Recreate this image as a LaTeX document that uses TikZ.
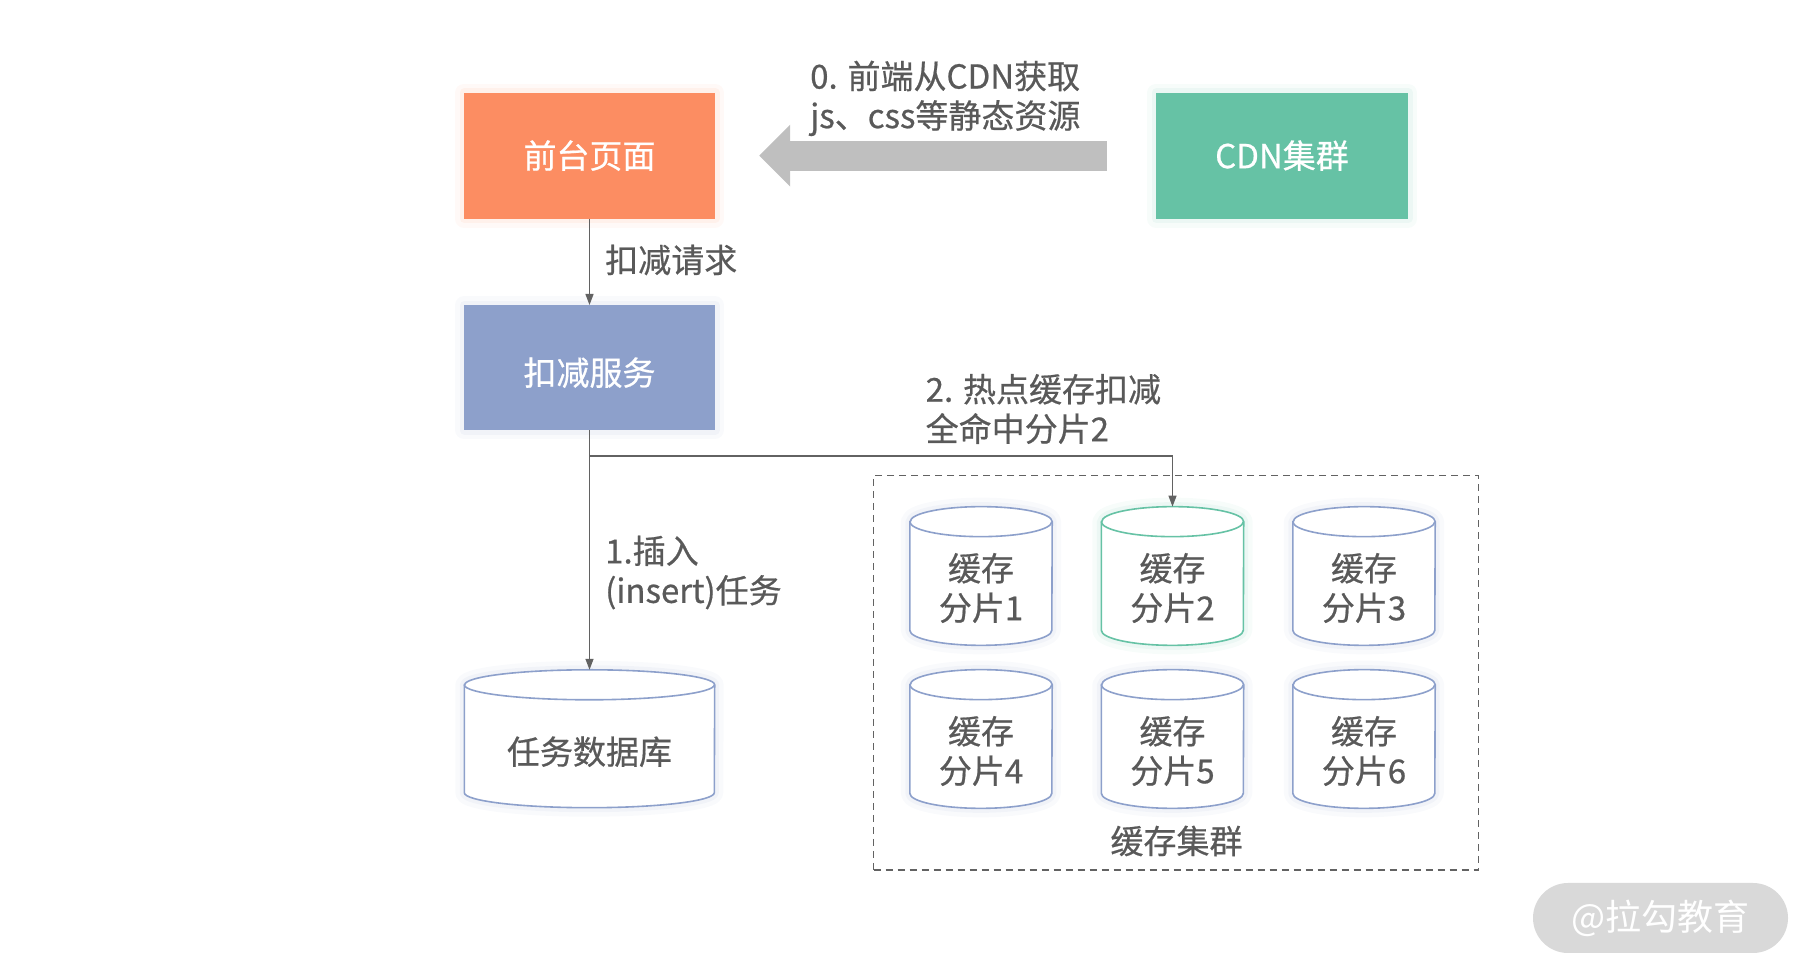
\documentclass[tikz,border=0pt]{standalone}
\usepackage{fontspec}
\setmainfont{Noto Sans CJK SC}[FakeBold=0.6]
\newfontfamily\plainfont{Noto Sans CJK SC}
\usetikzlibrary{arrows.meta,calc}
\definecolor{cfe}{HTML}{FC8D62}
\definecolor{ccdn}{HTML}{66C2A5}
\definecolor{csvc}{HTML}{8DA0CB}
\definecolor{ctxt}{HTML}{595959}
\definecolor{cline}{HTML}{626262}
\definecolor{carrow}{HTML}{BFBFBF}
\definecolor{cmark}{HTML}{D9D9D9}
\pgfdeclarelayer{bg}
\pgfsetlayers{bg,main}
\tikzset{
  glow/.style={preaction={draw=#1,draw opacity=0.05,line width=18pt,line join=round},
               preaction={draw=#1,draw opacity=0.08,line width=9pt,line join=round}},
  box/.style={draw=none,inner sep=0pt,text=white,font=\fontsize{33pt}{40pt}\selectfont},
  lbl/.style={inner sep=0pt,text=ctxt,font=\fontsize{33pt}{39.5pt}\selectfont},
  cyl/.style={draw=none,inner sep=0pt},
  conn/.style={draw=cline,line width=1.3pt,-{Triangle[length=11pt,width=8pt]}},
}
\newcommand\cylshape[3]{%
  \begin{pgfonlayer}{bg}
  \draw[draw=#3,fill=white,line width=1.6pt,glow=#3]
    ([yshift=-15pt]#1.north west) -- ([yshift=15pt]#1.south west)
    arc[start angle=180,end angle=360,x radius=#2,y radius=15pt]
    -- ([yshift=-15pt]#1.north east)
    arc[start angle=0,end angle=180,x radius=#2,y radius=15pt] -- cycle;
  \draw[draw=#3,line width=1.6pt] ([yshift=-15pt]#1.north west)
    arc[start angle=180,end angle=360,x radius=#2,y radius=15pt];
  \end{pgfonlayer}}
\begin{document}
\begin{tikzpicture}[x=1pt,y=1pt]
\useasboundingbox (0,0) rectangle (1814,979);

% top boxes
\node[box,fill=cfe,glow=cfe,minimum width=251pt,minimum height=126pt] (fe) at (589.5,823.4) {前台页面};
\node[box,fill=ccdn,glow=ccdn,minimum width=252pt,minimum height=126pt] (cdn) at (1282,823.4) {CDN集群};
\node[box,fill=csvc,glow=csvc,minimum width=251pt,minimum height=125pt] (svc) at (589.5,611.3) {\raisebox{-5pt}[\height][\depth]{扣减服务}};

% big gray arrow
\draw[carrow,line width=30pt,-{Triangle[length=31pt 0 0,width=60pt 0]}]
  ([xshift=-49pt]cdn.west) -- ([xshift=44pt]fe.east);
\node[lbl,anchor=west,align=left] (l0) at (810,880.6) {0. 前端从CDN获取\\js、css等静态资源};

% request
\draw[conn] (fe.south) -- (svc.north);
\node[lbl,anchor=west] (l1) at (605,719) {扣减请求};

% task database
\node[cyl,minimum width=250pt,minimum height=137.5pt] (db) at (589.5,240.25) {};
\cylshape{db}{125pt}{csvc}
\node[lbl] (dbt) at ([yshift=-13pt]db.center) {任务数据库};

% cache cluster
\node[draw=cline,dashed,dash pattern=on 7pt off 5pt,line width=1.4pt,minimum width=605pt,minimum height=394.5pt,inner sep=0pt] (cluster) at (1176,306.25) {};
\node[lbl] (clt) at (1176.5,138) {缓存集群};

\node[cyl,minimum width=142pt,minimum height=138.3pt] (c1) at (981,403) {};
\node[cyl,minimum width=142pt,minimum height=138.3pt] (c2) at (1172.5,403) {};
\node[cyl,minimum width=142pt,minimum height=138.3pt] (c3) at (1364,403) {};
\node[cyl,minimum width=142pt,minimum height=138.3pt] (c4) at (981,240) {};
\node[cyl,minimum width=142pt,minimum height=138.3pt] (c5) at (1172.5,240) {};
\node[cyl,minimum width=142pt,minimum height=138.3pt] (c6) at (1364,240) {};
\cylshape{c1}{71pt}{csvc}
\cylshape{c2}{71pt}{ccdn}
\cylshape{c3}{71pt}{csvc}
\cylshape{c4}{71pt}{csvc}
\cylshape{c5}{71pt}{csvc}
\cylshape{c6}{71pt}{csvc}
\node[lbl,align=center] (c1t) at ([yshift=-12pt]c1.center) {缓存\\分片1};
\node[lbl,align=center] (c2t) at ([yshift=-12pt]c2.center) {缓存\\分片2};
\node[lbl,align=center] (c3t) at ([yshift=-12pt]c3.center) {缓存\\分片3};
\node[lbl,align=center] (c4t) at ([yshift=-12pt]c4.center) {缓存\\分片4};
\node[lbl,align=center] (c5t) at ([yshift=-12pt]c5.center) {缓存\\分片5};
\node[lbl,align=center] (c6t) at ([yshift=-12pt]c6.center) {缓存\\分片6};

% service connectors
\draw[conn] (svc.south) -- (db.north);
\coordinate (br) at ([yshift=-25.6pt]svc.south);
\draw[draw=cline,line width=1.3pt,-{Triangle[length=11pt,width=8pt]}] (br) -| (c2.north);
\node[lbl,anchor=west,align=left] (l2) at (925.5,570) {2. 热点缓存扣减\\全命中分片2};
\node[lbl,anchor=west,align=left] (l3) at (605,406.5) {1.插入\\(insert)任务};

% watermark
\node[fill=cmark,rounded corners=35pt,minimum width=255pt,minimum height=70pt,inner sep=0pt,text=white,font=\plainfont\fontsize{36pt}{40pt}\selectfont] (wm) at (1660.5,61) {@拉勾教育};
\end{tikzpicture}
\end{document}
